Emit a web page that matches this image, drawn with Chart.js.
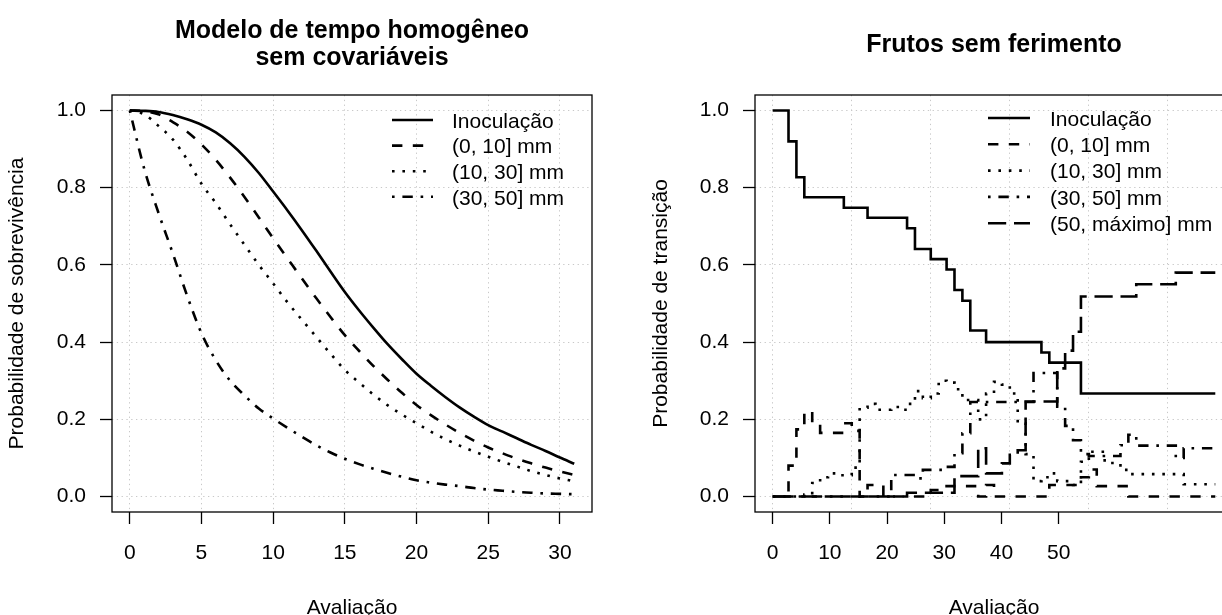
<!DOCTYPE html>
<html>
<head>
<meta charset="utf-8">
<script src="https://cdn.jsdelivr.net/npm/chart.js@4"></script>
<style>
  html, body { margin: 0; padding: 0; background: #fff; width: 1222px; height: 615px; overflow: hidden; }
  .panel { position: absolute; top: 0; height: 625px; }
  #left { left: 0; width: 611px; }
  #right { left: 611px; width: 640px; }
</style>
</head>
<body>
<div class="panel" id="left"><canvas id="survival"></canvas></div>
<div class="panel" id="right"><canvas id="transition"></canvas></div>
<script>
// ---- data: left panel (smooth survival curves, read at each evaluation) ----
const LEFT_T = [0,1,2,3,4,5,6,7,8,9,10,11,12,13,14,15,16,17,18,19,20,21,22,23,24,25,26,27,28,29,30,31];
const LEFT_INOC = [1.000,0.999,0.996,0.988,0.977,0.963,0.943,0.915,0.880,0.838,0.790,0.741,0.690,0.637,0.583,0.530,0.482,0.437,0.394,0.355,0.318,0.287,0.258,0.231,0.207,0.185,0.168,0.151,0.134,0.118,0.101,0.085];
const LEFT_0_10 = [1.000,0.998,0.990,0.970,0.945,0.912,0.872,0.826,0.776,0.723,0.669,0.617,0.565,0.514,0.465,0.418,0.377,0.338,0.302,0.268,0.237,0.211,0.187,0.165,0.145,0.127,0.112,0.098,0.086,0.075,0.065,0.056];
const LEFT_10_30 = [1.000,0.990,0.960,0.925,0.873,0.810,0.760,0.705,0.652,0.600,0.552,0.503,0.458,0.414,0.370,0.328,0.295,0.264,0.236,0.212,0.190,0.168,0.149,0.132,0.117,0.103,0.090,0.078,0.066,0.056,0.047,0.040];
const LEFT_30_50 = [1.000,0.850,0.735,0.630,0.520,0.423,0.353,0.300,0.262,0.228,0.202,0.178,0.155,0.133,0.114,0.098,0.084,0.072,0.061,0.051,0.042,0.036,0.031,0.027,0.022,0.018,0.015,0.012,0.010,0.008,0.007,0.006];
const LEFT_X_TICKS = [0,5,10,15,20,25,30];

// ---- data: right panel (step transition probabilities, time = evaluation index) ----
const RIGHT_INOC_T = [0,2,3,4,9,12,17,18,20,22,23,24,25,27,34,35,39,56];
const RIGHT_INOC_P = [1,0.92,0.827,0.775,0.748,0.722,0.695,0.641,0.615,0.588,0.535,0.507,0.43,0.4,0.373,0.347,0.267,0.267];
const RIGHT_0_10_T = [0,2,3,4,5,6,9,10,11,12,14,20,22,26,27,28,35,39,40,41,45,56];
const RIGHT_0_10_P = [0,0.08,0.174,0.22,0.19,0.165,0.19,0.17,0,0.03,0,0.017,0.027,0,0.03,0,0.03,0.05,0.07,0.027,0,0];
const RIGHT_10_30_T = [0,4,5,6,7,8,10,11,12,13,15,16,17,18,19,20,21,22,23,24,26,27,28,29,30,31,32,33,34,35,36,38,39,40,42,44,45,52,56];
const RIGHT_10_30_P = [0,0.005,0.035,0.05,0.06,0.055,0.075,0.23,0.24,0.225,0.232,0.225,0.24,0.273,0.255,0.267,0.3,0.295,0.278,0.25,0.2,0.267,0.297,0.29,0.267,0.19,0.11,0.04,0.05,0.06,0.04,0.03,0.09,0.116,0.087,0.069,0.058,0.032,0.032];
const RIGHT_30_50_T = [0,15,18,19,22,23,24,25,33,36,37,38,39,40,44,45,46,51,52,56];
const RIGHT_30_50_P = [0,0.056,0.047,0.069,0.077,0.112,0.164,0.245,0.32,0.233,0.183,0.146,0.11,0.105,0.133,0.16,0.132,0.1,0.125,0.125];
const RIGHT_50_MAX_T = [0,17,23,26,27,29,30,31,32,36,37,38,39,46,51,56];
const RIGHT_50_MAX_P = [0,0.01,0.053,0.125,0.06,0.086,0.108,0.12,0.246,0.332,0.378,0.427,0.518,0.55,0.58,0.58];
// axis labels sit on their own scale; the dotted grid follows the evaluation index
const RIGHT_X_TICKS = [0,10,20,30,40,50];
const RIGHT_GRID_EVAL = [0,10,20,30,40,50];

const Y_TICKS = [0,0.2,0.4,0.6,0.8,1.0];

const FONT = '"Liberation Sans", Arial, Helvetica, sans-serif';
const LW = 2.6;
const STYLE = {
  solid:    [],
  dashed:   [10.4, 10.4],
  dotted:   [2.6, 7.8],
  dotdash:  [2.6, 7.8, 10.4, 7.8],
  longdash: [18.2, 7.8],
};

// R-like frame: box, bold title, legend with line samples
const rPanel = {
  id: 'rPanel',
  afterDraw(chart, args, opts) {
    const ctx = chart.ctx;
    const a = chart.chartArea;
    ctx.save();
    ctx.strokeStyle = '#000';
    ctx.lineWidth = 1.3;
    ctx.setLineDash([]);
    ctx.strokeRect(a.left, a.top, a.right - a.left, a.bottom - a.top);

    ctx.fillStyle = '#000';
    ctx.textAlign = 'center';
    ctx.textBaseline = 'middle';
    ctx.font = 'bold 25px ' + FONT;
    const cx = (a.left + a.right) / 2;
    opts.title.forEach(function (line, i) { ctx.fillText(line, cx, opts.titleY[i]); });

    ctx.font = '21px ' + FONT;
    ctx.textAlign = 'left';
    chart.data.datasets.forEach(function (ds, i) {
      const y = a.top + opts.legendTop + i * opts.legendStep;
      ctx.beginPath();
      ctx.lineWidth = ds.borderWidth;
      ctx.setLineDash(ds.borderDash);
      ctx.moveTo(a.left + opts.legendX1, y);
      ctx.lineTo(a.left + opts.legendX2, y);
      ctx.stroke();
      ctx.fillText(ds.label, a.left + opts.legendText, y + 2);
    });
    ctx.restore();
  }
};

function makeSeries(label, xs, ys, dash) {
  return {
    label: label,
    data: xs.map(function (x, i) { return { x: x, y: ys[i] }; }),
    borderColor: '#000',
    borderWidth: LW,
    borderDash: dash,
    pointRadius: 0,
    fill: false,
  };
}

const GRID = {
  color: '#c8c8c8',
  lineWidth: 1,
  tickColor: '#000',
  tickWidth: 1.3,
  tickLength: 12,
  tickBorderDash: [],
};

function fixedTicks(list) {
  return function (s) { s.ticks = list.map(function (v) { return { value: v }; }); };
}

function xLabelAxis(xMin, xMax, xTicks, gridOnArea) {
  return {
    type: 'linear',
    position: 'bottom',
    min: xMin,
    max: xMax,
    afterBuildTicks: fixedTicks(xTicks),
    afterFit: function (s) { s.height = 113; },
    grid: Object.assign({}, GRID, { drawOnChartArea: gridOnArea }),
    border: { display: false, dash: [1.3, 3.5] },
    ticks: { color: '#000', font: { family: FONT, size: 21 }, padding: 17, maxRotation: 0,
             callback: function (v) { return String(v); } },
    title: { display: true, text: 'Avaliação', color: '#000',
             font: { family: FONT, size: 21, lineHeight: 1 }, padding: { top: 0, bottom: 6 } },
  };
}

function yAxis(yWidth, yTitle, yTitlePad) {
  return {
    type: 'linear',
    min: -0.04,
    max: 1.04,
    afterBuildTicks: fixedTicks(Y_TICKS),
    afterFit: function (s) { s.width = yWidth; },
    grid: GRID,
    border: { display: false, dash: [1.3, 3.5] },
    ticks: { color: '#000', font: { family: FONT, size: 21 }, padding: 14,
             callback: function (v) { return Number(v).toFixed(1); } },
    title: { display: true, text: yTitle, color: '#000',
             font: { family: FONT, size: 21, lineHeight: 1 }, padding: { top: yTitlePad, bottom: 0 } },
  };
}

Chart.defaults.animation = false;

new Chart(document.getElementById('survival'), {
  type: 'line',
  data: {
    datasets: [
      makeSeries('Inoculação', LEFT_T, LEFT_INOC, STYLE.solid),
      makeSeries('(0, 10] mm', LEFT_T, LEFT_0_10, STYLE.dashed),
      makeSeries('(10, 30] mm', LEFT_T, LEFT_10_30, STYLE.dotted),
      makeSeries('(30, 50] mm', LEFT_T, LEFT_30_50, STYLE.dotdash),
    ].map(function (d) { d.cubicInterpolationMode = 'monotone'; return d; }),
  },
  options: {
    responsive: true,
    maintainAspectRatio: false,
    layout: { padding: { top: 95, right: 19, bottom: 0, left: 0 } },
    scales: {
      x: xLabelAxis(-1.24, 32.24, LEFT_X_TICKS, true),
      y: yAxis(112, 'Probabilidade de sobrevivência', 7),
    },
    plugins: {
      legend: { display: false },
      tooltip: { enabled: false },
      rPanel: {
        title: ['Modelo de tempo homogêneo', 'sem covariáveis'],
        titleY: [31, 58],
        legendTop: 25, legendStep: 25.6,
        legendX1: 280, legendX2: 321, legendText: 340,
      },
    },
  },
  plugins: [rPanel],
});

new Chart(document.getElementById('transition'), {
  type: 'line',
  data: {
    datasets: [
      makeSeries('Inoculação', RIGHT_INOC_T, RIGHT_INOC_P, STYLE.solid),
      makeSeries('(0, 10] mm', RIGHT_0_10_T, RIGHT_0_10_P, STYLE.dashed),
      makeSeries('(10, 30] mm', RIGHT_10_30_T, RIGHT_10_30_P, STYLE.dotted),
      makeSeries('(30, 50] mm', RIGHT_30_50_T, RIGHT_30_50_P, STYLE.dotdash),
      makeSeries('(50, máximo] mm', RIGHT_50_MAX_T, RIGHT_50_MAX_P, STYLE.longdash),
    ].map(function (d) { d.stepped = 'before'; d.xAxisID = 'ev'; return d; }),
  },
  options: {
    responsive: true,
    maintainAspectRatio: false,
    layout: { padding: { top: 95, right: 18, bottom: 0, left: 0 } },
    scales: {
      x: xLabelAxis(-3.09, 80.48, RIGHT_X_TICKS, false),
      ev: {
        type: 'linear',
        position: 'bottom',
        min: -2.24,
        max: 58.24,
        afterBuildTicks: fixedTicks(RIGHT_GRID_EVAL),
        afterFit: function (s) { s.height = 0; },
        grid: Object.assign({}, GRID, { drawTicks: false }),
        border: { display: false, dash: [1.3, 3.5] },
        ticks: { display: false },
      },
      y: yAxis(144, 'Probabilidade de transição', 40),
    },
    plugins: {
      legend: { display: false },
      tooltip: { enabled: false },
      rPanel: {
        title: ['Frutos sem ferimento'],
        titleY: [45],
        legendTop: 23, legendStep: 26.3,
        legendX1: 233, legendX2: 275, legendText: 295,
      },
    },
  },
  plugins: [rPanel],
});
</script>
</body>
</html>
